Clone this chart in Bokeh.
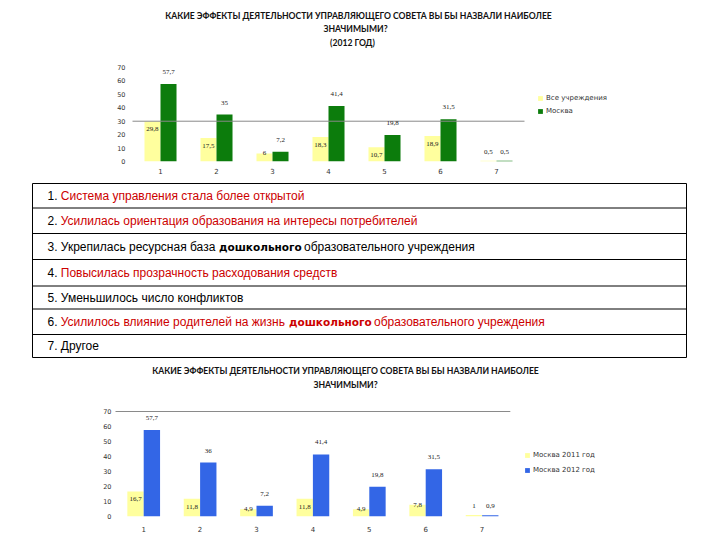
from bokeh.plotting import figure
from bokeh.models import (Range1d, LabelSet, ColumnDataSource, Label, FixedTicker)
from bokeh.transform import dodge
from bokeh.embed import file_html
from bokeh.resources import INLINE

# ---------------- data ----------------
categories = ["1", "2", "3", "4", "5", "6", "7"]
top_all = [29.8, 17.5, 6, 18.3, 10.7, 18.9, 0.5]
top_moscow = [57.7, 35, 7.2, 41.4, 19.8, 31.5, 0.5]
bottom_2011 = [16.7, 11.8, 4.9, 11.8, 4.9, 7.8, 1]
bottom_2012 = [57.7, 36, 7.2, 41.4, 19.8, 31.5, 0.9]
y_ticks = [0, 10, 20, 30, 40, 50, 60, 70]

top_names = ["Все учреждения", "Москва"]
bottom_names = ["Москва 2011 год", "Москва 2012 год"]

top_title = ["КАКИЕ ЭФФЕКТЫ ДЕЯТЕЛЬНОСТИ УПРАВЛЯЮЩЕГО СОВЕТА ВЫ БЫ НАЗВАЛИ НАИБОЛЕЕ",
             "ЗНАЧИМЫМИ?", "(2012 ГОД)"]
bottom_title = ["КАКИЕ ЭФФЕКТЫ ДЕЯТЕЛЬНОСТИ УПРАВЛЯЮЩЕГО СОВЕТА ВЫ БЫ НАЗВАЛИ НАИБОЛЕЕ",
                "ЗНАЧИМЫМИ?"]

# table rows: (text, colour key, bold)
table_rows = [
    [("1. ", "k", False), ("Система управления стала более открытой", "r", False)],
    [("2. ", "k", False), ("Усилилась ориентация образования на интересы потребителей", "r", False)],
    [("3. Укрепилась ресурсная база", "k", False), ("дошкольного", "k", True),
     ("образовательного учреждения", "k", False)],
    [("4. ", "k", False), ("Повысилась прозрачность расходования средств", "r", False)],
    [("5. Уменьшилось число конфликтов", "k", False)],
    [("6. ", "k", False), ("Усилилось влияние родителей на жизнь", "r", False),
     ("дошкольного", "r", True), ("образовательного учреждения", "r", False)],
    [("7. Другое", "k", False)],
]

# ---------------- styles / layout ----------------
YELLOW = "#FFFF9E"
GREEN = "#0C7C0C"
BLUE = "#3366E6"
RED = "#CC0000"
colors = {"k": "#000000", "r": RED}
W = 720

# x positions (page px) of each table text segment
seg_x = [
    [47, 60.3],
    [47, 60.3],
    [47, 218.5, 303.5],
    [47, 60.3],
    [47],
    [47, 60.3, 288.5, 373.5],
    [47],
]
row_bounds = [183, 207.5, 233, 259, 285.5, 308.5, 334, 357]


def fmt(v):
    return ("%g" % v).replace(".", ",")


def make_chart(h, fig_top, frame_left, frame_bottom, top70, spacing, vals_a, vals_b,
               names, col_b, titles, title_pos, leg_loc, ystand, xstand, leg_spacing,
               width_frac):
    n = len(categories)
    frame_h = frame_bottom - fig_top
    ymax = 70 * frame_h / (frame_bottom - top70)
    xmax = 0.5 + (W - frame_left) / spacing
    p = figure(width=W, height=h, x_range=Range1d(0.5, xmax), y_range=Range1d(0, ymax),
               toolbar_location=None, output_backend="svg",
               min_border_left=frame_left, min_border_right=0, min_border_top=0,
               min_border_bottom=fig_top + h - frame_bottom)
    p.outline_line_color = None
    p.xgrid.visible = False
    p.ygrid.visible = False
    for ax in (p.xaxis[0], p.yaxis[0]):
        ax.axis_line_color = None
        ax.major_tick_line_color = None
        ax.minor_tick_line_color = None
        ax.major_tick_out = 0
        ax.major_tick_in = 0
        ax.minor_tick_out = 0
        ax.minor_tick_in = 0
        ax.major_label_text_font = "DejaVu Sans"
        ax.major_label_text_color = "#333333"
    p.yaxis.ticker = FixedTicker(ticks=y_ticks)
    p.yaxis.major_label_text_font_size = "6.5px"
    p.yaxis.major_label_standoff = ystand
    xs = list(range(1, n + 1))
    p.xaxis.ticker = FixedTicker(ticks=xs)
    p.xaxis.major_label_overrides = {x: c for x, c in zip(xs, categories)}
    p.xaxis.major_label_text_font_size = "7px"
    p.xaxis.major_label_standoff = xstand

    off = width_frac / 2
    src = ColumnDataSource(dict(
        x=xs, a=vals_a, b=vals_b,
        al=[fmt(v) for v in vals_a], bl=[fmt(v) for v in vals_b],
        ao=[9 if v < 2 else (0 if v < 8 else -8) for v in vals_a],
        bo=[9 if v < 2 else 12 for v in vals_b],
    ))
    p.vbar(x=dodge("x", -off), top="a", width=width_frac, source=src,
           fill_color=YELLOW, line_color=None, legend_label=names[0])
    p.vbar(x=dodge("x", off), top="b", width=width_frac, source=src,
           fill_color=col_b, line_color=None, legend_label=names[1])
    for fld, lbl, yo, sgn in (("a", "al", "ao", -off), ("b", "bl", "bo", off)):
        p.add_layout(LabelSet(x=dodge("x", sgn), y=fld, text=lbl,
                              y_offset=yo, source=src, text_align="center",
                              text_baseline="middle", text_font="DejaVu Sans",
                              text_font_size="7px", text_color="#222222"))
    lg = p.legend[0]
    lg.location = leg_loc
    lg.border_line_color = None
    lg.background_fill_alpha = 0
    lg.padding = 0
    lg.margin = 0
    lg.spacing = leg_spacing
    lg.glyph_width = 6
    lg.glyph_height = 6
    lg.label_standoff = 3
    lg.label_text_font = "DejaVu Sans"
    lg.label_text_font_size = "7px"
    lg.label_text_color = "#333333"
    for t, (tx, ty) in zip(titles, title_pos):
        p.add_layout(Label(x=tx - frame_left, y=frame_bottom - ty, x_units="screen",
                           y_units="screen", text=t,
                           text_align="center", text_baseline="middle",
                           text_font="Lato", text_font_style="bold",
                           text_font_size="8.6px", text_color="#111111"))
    return p, n


# top chart: page y 0..178, frame left 132, bottom 161, value 70 at y 67
p1, n1 = make_chart(178, 0, 132, 161, 67, 56, top_all, top_moscow, top_names, GREEN,
                    top_title, [(358, 15), (355, 28), (352, 42)], (405, 46), 7, 6, 5, 0.286)
p1.segment(x0=[0.45], y0=[30], x1=[n1 + 0.5], y1=[30], line_color="#8a8a8a", line_width=1)

# table: page y 178..358
pt = figure(width=W, height=180, x_range=Range1d(0, W), y_range=Range1d(358, 178),
            toolbar_location=None, output_backend="svg", min_border=0,
            x_axis_location=None, y_axis_location=None)
pt.outline_line_color = None
pt.xgrid.visible = False
pt.ygrid.visible = False
left, right = 32, 686
pt.multi_line(xs=[[left, right] for _ in row_bounds], ys=[[b, b] for b in row_bounds],
              line_color="black", line_width=1)
pt.multi_line(xs=[[left, left], [right, right]],
              ys=[[row_bounds[0], row_bounds[-1]]] * 2, line_color="black", line_width=1)
for i, segs in enumerate(table_rows):
    yc = (row_bounds[i] + row_bounds[i + 1]) / 2
    for (txt, ck, bold), xx in zip(segs, seg_x[i]):
        if bold:
            fnt, fsz, sty = "DejaVu Sans", "10.5px", "bold"
        else:
            fnt, fsz, sty = "Liberation Sans", "12px", "normal"
        pt.text(x=[xx], y=[yc], text=[txt], text_align="left", text_baseline="middle",
                text_font={"value": fnt}, text_font_size=fsz,
                text_font_style=sty, text_color=colors[ck])

# bottom chart: page y 358..540, frame left 115, bottom 516, value 70 at y 411
p3, n3 = make_chart(182, 358, 115, 516, 411, 56.4, bottom_2011, bottom_2012, bottom_names,
                    BLUE, bottom_title, [(345, 370), (345, 384)], (409, 42), 4, 9, 7, 0.29)
p3.segment(x0=[0.46], y0=[70], x1=[n3 + 0.5], y1=[70], line_color="#8a8a8a", line_width=1)

open("out.html", "w").write(file_html([p1, pt, p3], INLINE))
